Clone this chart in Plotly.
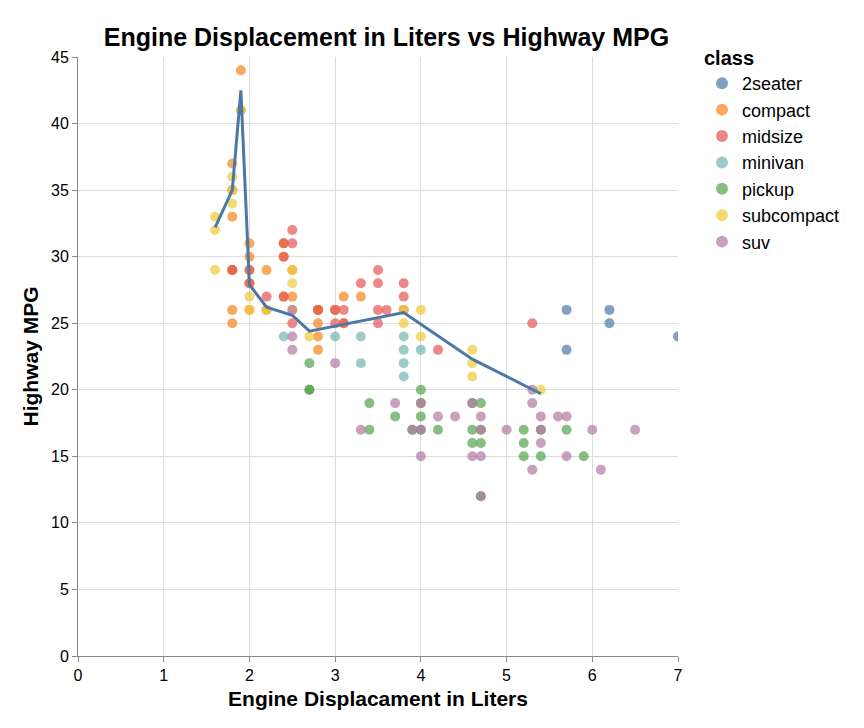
import plotly.graph_objects as go

# points, per class: (displacement, highway mpg)
two_seater = [(5.7, 26), (5.7, 23), (6.2, 26), (6.2, 25), (7.0, 24)]
compact = [(1.8, 29), (1.8, 29), (2.0, 31), (2.0, 30), (2.8, 26), (2.8, 26), (3.1, 27),
           (1.8, 26), (1.8, 25), (2.0, 28), (2.0, 29), (2.8, 25), (3.1, 25), (2.2, 26),
           (2.2, 29), (2.4, 27), (2.4, 31), (3.0, 26), (1.8, 33), (1.8, 35), (1.8, 37),
           (1.9, 44), (1.9, 41), (2.0, 26), (2.5, 29), (2.5, 27), (2.8, 24), (2.8, 23),
           (2.4, 30), (3.3, 27)]
midsize = [(2.4, 30), (2.4, 31), (2.5, 32), (2.5, 31), (3.1, 26), (3.5, 29), (3.3, 28),
           (3.5, 28), (3.5, 26), (3.8, 28), (3.8, 27), (3.8, 26), (3.0, 26), (3.6, 26),
           (4.2, 23), (5.3, 25), (2.8, 26), (3.1, 25), (2.5, 25), (3.5, 25), (2.4, 27),
           (2.2, 27), (3.0, 25), (2.0, 28), (2.0, 29), (1.8, 29)]
minivan = [(2.4, 24), (3.0, 24), (3.3, 22), (3.3, 24), (3.8, 22), (3.8, 21), (3.8, 23),
           (4.0, 23), (3.8, 24)]
pickup = [(2.7, 20), (2.7, 20), (2.7, 22), (3.4, 19), (3.7, 18), (3.9, 17), (4.7, 17),
          (4.7, 16), (5.2, 17), (5.2, 15), (5.9, 15), (4.0, 20), (4.0, 18), (4.6, 16),
          (4.6, 17), (5.4, 17), (5.4, 15), (4.2, 17), (4.7, 12), (5.7, 17), (3.4, 17),
          (4.0, 19), (4.6, 19), (5.2, 16), (4.0, 17), (4.7, 19)]
subcompact = [(1.6, 33), (1.6, 32), (1.6, 29), (1.8, 34), (1.8, 36), (1.9, 41), (2.0, 26),
              (2.0, 27), (2.2, 26), (2.5, 26), (2.5, 28), (2.5, 29), (3.8, 25), (3.8, 26),
              (4.0, 26), (4.0, 24), (4.6, 21), (4.6, 22), (4.6, 23), (5.4, 20), (2.7, 24),
              (1.8, 35)]
suv = [(2.5, 23), (2.5, 24), (3.0, 22), (3.3, 17), (3.7, 19), (4.0, 15), (4.0, 17),
       (4.2, 18), (4.4, 18), (4.6, 15), (4.7, 15), (4.7, 18), (5.3, 14), (5.3, 19),
       (5.4, 16), (5.4, 18), (5.6, 18), (5.7, 15), (6.0, 17), (6.1, 14), (6.5, 17),
       (5.7, 18), (4.6, 19), (4.7, 17), (5.0, 17), (5.3, 20), (3.9, 17), (4.0, 19),
       (5.4, 17), (2.5, 26), (4.7, 12)]

classes = ['2seater', 'compact', 'midsize', 'minivan', 'pickup', 'subcompact', 'suv']
class_points = [two_seater, compact, midsize, minivan, pickup, subcompact, suv]
colors = ['#4c78a8', '#f58518', '#e45756', '#72b7b2', '#54a24b', '#eeca3b', '#b279a2']

# smoothed trend line
trend_x = [1.6, 1.8, 1.9, 2.0, 2.2, 2.5, 2.7, 3.8, 4.6, 5.4]
trend_y = [32.2, 35.0, 42.5, 27.9, 26.2, 25.6, 24.4, 25.8, 22.3, 19.7]

fig = go.Figure()
for name, pts, col in zip(classes, class_points, colors):
    fig.add_trace(go.Scatter(
        x=[p[0] for p in pts], y=[p[1] for p in pts], mode='markers', name=name,
        marker={"color": col, "size": 10, "opacity": 0.7}))

fig.add_trace(go.Scatter(x=trend_x, y=trend_y, mode='lines', showlegend=False,
                         line={"color": '#4c78a8', "width": 3}))

axis_style = dict(showgrid=True, gridcolor='#dddddd', zeroline=False, showline=True,
                  linecolor='#888888', ticks='outside', tickcolor='#888888',
                  ticklen=5, tickfont={"size": 16, "color": '#000000'})

fig.update_xaxes(range=[0, 7], dtick=1, title={"text": '<b>Engine Displacament in Liters</b>',
                 "font": {"size": 21}, "standoff": 8}, **axis_style)
fig.update_yaxes(range=[0, 45], dtick=5, title={"text": '<b>Highway MPG</b>',
                 "font": {"size": 21}, "standoff": 6}, **axis_style)

fig.update_layout(
    width=864, height=728,
    margin={"l": 70, "r": 194, "t": 49, "b": 80},
    paper_bgcolor='white', plot_bgcolor='white',
    font={"family": 'Liberation Sans, Arial, sans-serif', "color": '#000000'},
    title={"text": '<b>Engine Displacement in Liters vs Highway MPG</b>',
           "x": 0.438, "xanchor": 'center', "y": 0.972, "font": {"size": 25}},
    legend={"title": {"text": '<b>class</b>', "font": {"size": 20}},
            "font": {"size": 18}, "x": 1.04, "y": 1.03, "xanchor": 'left',
            "yanchor": 'top', "tracegroupgap": 0, "itemsizing": 'constant'})

fig.write_html("out.html")
